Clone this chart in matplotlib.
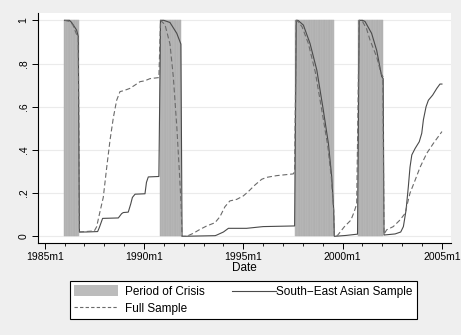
import matplotlib
matplotlib.use("Agg")
import matplotlib.pyplot as plt
from matplotlib.patches import Patch
from matplotlib.lines import Line2D
from matplotlib.legend_handler import HandlerBase
from matplotlib.ticker import MultipleLocator

# Months counted from 1985m1 (= 0)
tick_months = [0, 60, 120, 180, 240]
tick_labels = ["1985m1", "1990m1", "1995m1", "2000m1", "2005m1"]

# Crisis periods (first month, last month)
crisis_periods = [(12, 20), (70, 82), (152, 174), (190, 204)]

# South-East Asian sample: (month, probability)
sea_month = [12, 15, 16.3, 19.3, 20.3, 21, 25, 32, 33, 35, 44.5, 45.5, 46.5, 47.5,
             50.5, 52, 53, 54.6, 60.6, 61.5, 62.6, 69, 70, 72, 75.7, 79.8, 82.3, 83,
             103, 104, 108, 111, 122, 132, 151, 152, 153, 156.3, 160.3, 164.4, 168.3,
             171.4, 173.4, 174.6, 175, 182, 189, 190, 192, 193.5, 197.5, 200.6, 203.6,
             204.5, 205, 211.7, 215.1, 216.7, 218.3, 219.7, 220.7, 221.8, 223.8, 226.3,
             227.8, 228.8, 230.4, 231.8, 234.4, 236.9, 238.8, 240]
sea_value = [1.0, 1.0, 0.99, 0.955, 0.925, 0.02, 0.02, 0.022, 0.04, 0.083, 0.085, 0.095,
             0.105, 0.11, 0.112, 0.15, 0.18, 0.195, 0.197, 0.25, 0.275, 0.277, 1.0, 1.0,
             0.99, 0.94, 0.89, 0.0, 0.003, 0.006, 0.02, 0.037, 0.037, 0.045, 0.048, 1.0,
             1.0, 0.978, 0.893, 0.77, 0.586, 0.43, 0.276, 0.12, 0.0, 0.004, 0.01, 1.0,
             1.0, 0.995, 0.94, 0.86, 0.74, 0.73, 0.006, 0.011, 0.02, 0.045, 0.12, 0.23,
             0.32, 0.377, 0.407, 0.438, 0.477, 0.54, 0.60, 0.63, 0.654, 0.685, 0.705, 0.705]

# Full sample: (month, probability)
full_month = [12, 15, 17, 19, 20.3, 21, 30, 31.4, 33, 35.4, 37.5, 39.5, 41.5, 43.5, 45.5,
              48, 51.5, 54.5, 57.6, 60.5, 63.6, 69, 70, 72.7, 75.7, 77.7, 79.8, 81.3,
              82.4, 83, 85.8, 89.8, 93.8, 97.9, 102.9, 105.9, 108.9, 111.9, 116, 120,
              123, 127.1, 131.1, 134.1, 140.2, 150.2, 151, 152, 153, 155.5, 159.3, 163.5,
              167.5, 171, 173.2, 174.6, 175, 177, 181, 185, 187, 188.5, 190, 192, 194.5,
              196.5, 200.6, 203.2, 204.3, 205, 206.6, 210.6, 214.7, 217.7, 220.7, 223.8,
              226.8, 230.8, 234.8, 240]
full_value = [1.0, 0.995, 0.98, 0.94, 0.92, 0.02, 0.025, 0.044, 0.1, 0.18, 0.32, 0.446,
              0.55, 0.63, 0.67, 0.675, 0.685, 0.70, 0.716, 0.72, 0.73, 0.735, 1.0, 0.98,
              0.89, 0.74, 0.51, 0.31, 0.15, 0.0, 0.0, 0.014, 0.032, 0.048, 0.063, 0.091,
              0.137, 0.164, 0.171, 0.187, 0.207, 0.238, 0.264, 0.273, 0.281, 0.289, 0.30,
              1.0, 0.995, 0.97, 0.893, 0.76, 0.58, 0.42, 0.27, 0.12, 0.0, 0.005, 0.044,
              0.075, 0.114, 0.15, 1.0, 0.995, 0.96, 0.91, 0.83, 0.755, 0.74, 0.01, 0.03,
              0.045, 0.076, 0.106, 0.2, 0.26, 0.32, 0.384, 0.43, 0.485]

SEA_COLOR = "#4a4a4a"
FULL_COLOR = "#6a6a6a"

plt.rcParams["font.family"] = ["Liberation Sans", "DejaVu Sans"]


class RunInLine(HandlerBase):
    """Legend key whose line runs right up to its label."""

    def create_artists(self, legend, orig_handle, xdescent, ydescent,
                       width, height, fontsize, trans):
        shift = legend.handletextpad * fontsize
        y = height / 2 - ydescent
        line = Line2D([-xdescent + shift, -xdescent + width + shift], [y, y],
                      color=orig_handle.get_color(), lw=orig_handle.get_linewidth())
        line.set_transform(trans)
        return [line]


fig = plt.figure(figsize=(4.61, 3.35), dpi=100, facecolor="#efefef")
ax = fig.add_axes([0.0818, 0.2746, 0.8959, 0.6866])
ax.set_facecolor("white")

# Crisis dummy drawn as monthly bars
crisis_months = [m for s, e in crisis_periods for m in range(s, e + 1)]
ax.bar(crisis_months, [1] * len(crisis_months), width=1.0, bottom=0,
       color="#b8b8b8", edgecolor="#ababab", linewidth=0.3, zorder=2)

ax.plot(sea_month, sea_value, color=SEA_COLOR, lw=0.8, zorder=3)
ax.plot(full_month, full_value, color=FULL_COLOR, lw=0.8, dashes=(4.5, 2.5), zorder=3)

ax.set_xlim(-4.2, 245.3)
ax.set_ylim(-0.031, 1.034)

ax.set_xticks(tick_months)
ax.set_xticklabels(tick_labels)
ax.xaxis.set_minor_locator(MultipleLocator(12))
ax.set_yticks([0, 0.2, 0.4, 0.6, 0.8, 1.0])
ax.set_yticklabels(["0", ".2", ".4", ".6", ".8", "1"], rotation=90, va="center")

ax.tick_params(axis="both", which="major", length=4.5, width=0.7, labelsize=7.5,
               color="black", pad=2)
ax.tick_params(axis="x", which="minor", length=2.5, width=0.6)
ax.yaxis.grid(True, color="#ebebeb", lw=0.8, zorder=0)
ax.set_axisbelow(True)

for side in ("top", "right"):
    ax.spines[side].set_visible(False)
for side in ("left", "bottom"):
    ax.spines[side].set_linewidth(0.8)

ax.set_xlabel("Date", fontsize=8.5, labelpad=0)

crisis_key = Patch(facecolor="#bcbcbc", edgecolor="none")
full_key = Line2D([], [], color=FULL_COLOR, lw=0.8, dashes=(3, 2))
sea_key = Line2D([], [], color=SEA_COLOR, lw=0.8)
handles = [crisis_key, full_key, sea_key]
labels = ["Period of Crisis", "Full Sample", "South\u2212East Asian Sample"]
leg = fig.legend(handles, labels, ncol=2, loc="center",
                 bbox_to_anchor=(243.3 / 461, 1 - 300 / 335),
                 handler_map={sea_key: RunInLine()},
                 fontsize=8.5, frameon=True, fancybox=False, edgecolor="black",
                 facecolor="white", framealpha=1, handlelength=3.7, handleheight=1.0,
                 columnspacing=1.7, labelspacing=0.4, borderpad=0.4,
                 handletextpad=0.6)
leg.get_frame().set_linewidth(0.8)

fig.savefig("out.png", dpi=100, facecolor=fig.get_facecolor())
